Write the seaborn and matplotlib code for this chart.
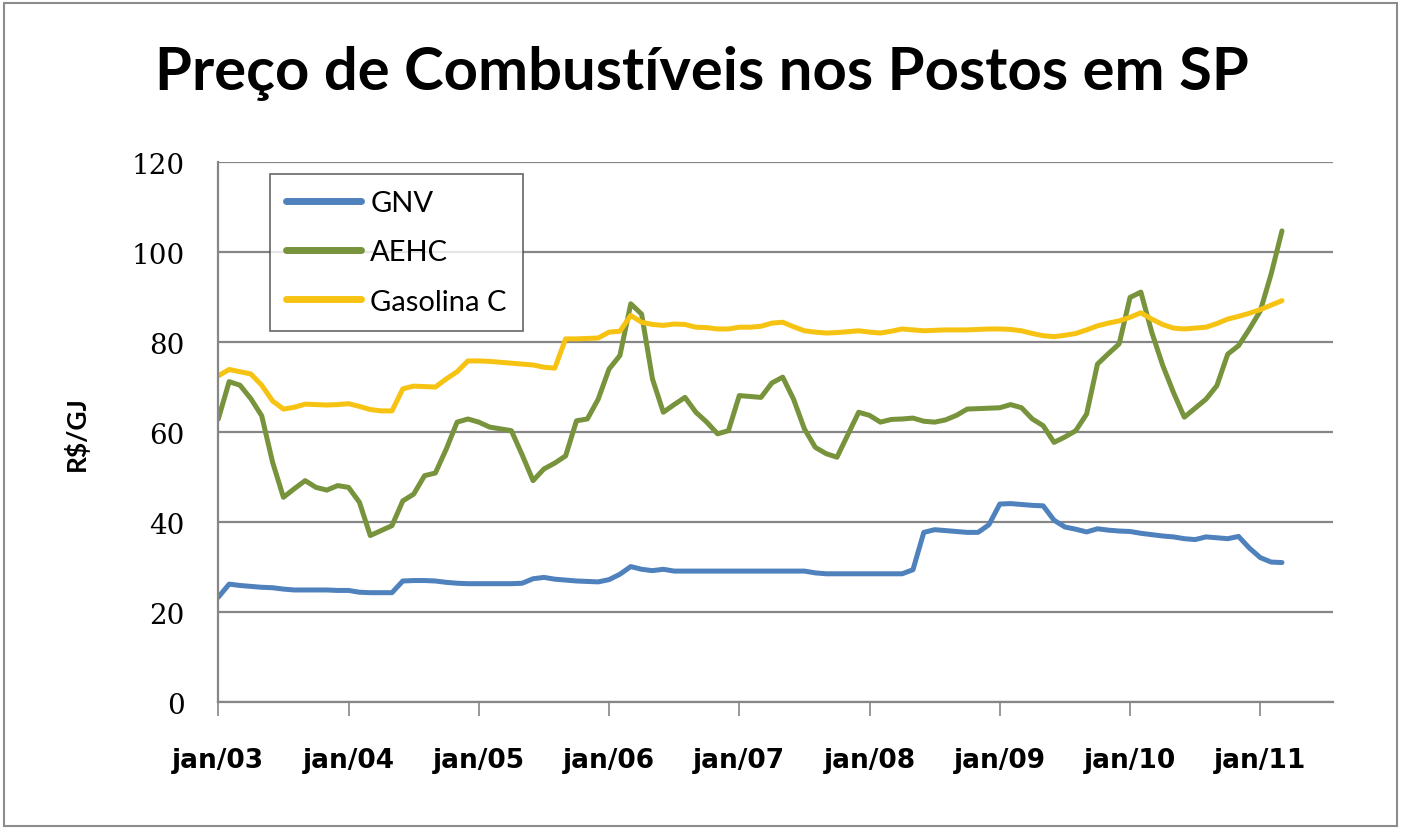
import numpy as np
import pandas as pd
import matplotlib
matplotlib.use("Agg")
import matplotlib.pyplot as plt
import seaborn as sns
from matplotlib.patches import Rectangle

# precos mensais (R$/GJ), jan/03 a mar/11
gnv = [23.4, 26.3, 26.0, 25.8, 25.6, 25.5, 25.2, 25.0, 25.0, 25.0, 25.0, 24.9,
       24.9, 24.5, 24.4, 24.4, 24.4, 27.0, 27.1, 27.1, 27.0, 26.7, 26.5, 26.4,
       26.4, 26.4, 26.4, 26.4, 26.5, 27.5, 27.8, 27.4, 27.2, 27.0, 26.9, 26.8,
       27.3, 28.5, 30.2, 29.6, 29.3, 29.6, 29.2, 29.2, 29.2, 29.2, 29.2, 29.2,
       29.2, 29.2, 29.2, 29.2, 29.2, 29.2, 29.2, 28.8, 28.6, 28.6, 28.6, 28.6,
       28.6, 28.6, 28.6, 28.6, 29.5, 37.8, 38.4, 38.2, 38.0, 37.8, 37.8, 39.5,
       44.1, 44.2, 44.0, 43.8, 43.7, 40.5, 39.0, 38.5, 37.9, 38.6, 38.3, 38.1,
       38.0, 37.6, 37.3, 37.0, 36.8, 36.4, 36.2, 36.8, 36.6, 36.4, 36.9, 34.3,
       32.2, 31.2, 31.1]

aehc = [63.0, 71.3, 70.5, 67.5, 63.7, 53.4, 45.6, 47.5, 49.3, 47.8, 47.2, 48.2,
        47.8, 44.5, 37.1, 38.2, 39.3, 44.8, 46.3, 50.4, 51.0, 56.3, 62.3, 63.0,
        62.3, 61.2, 60.8, 60.4, 55.0, 49.3, 51.9, 53.2, 54.8, 62.6, 63.0, 67.4,
        74.1, 77.1, 88.6, 86.3, 71.9, 64.5, 66.2, 67.8, 64.5, 62.3, 59.7, 60.4,
        68.2, 68.0, 67.8, 71.0, 72.3, 67.4, 60.8, 56.7, 55.3, 54.5, 59.5, 64.5,
        63.8, 62.3, 62.9, 63.0, 63.2, 62.5, 62.3, 62.8, 63.8, 65.2, 65.3, 65.4,
        65.5, 66.2, 65.5, 63.0, 61.5, 57.8, 59.0, 60.4, 64.1, 75.2, 77.5, 79.7,
        90.0, 91.2, 82.3, 75.0, 68.9, 63.4, 65.4, 67.4, 70.4, 77.4, 79.3, 83.0,
        87.0, 95.2, 104.8]

gasolina = [72.6, 74.0, 73.5, 73.0, 70.5, 67.0, 65.2, 65.6, 66.3, 66.2, 66.1, 66.2,
            66.4, 65.8, 65.1, 64.8, 64.8, 69.7, 70.3, 70.2, 70.1, 71.9, 73.5, 75.9,
            75.9, 75.8, 75.6, 75.4, 75.2, 75.0, 74.5, 74.3, 80.8, 80.8, 80.9, 81.0,
            82.3, 82.5, 86.0, 84.5, 84.0, 83.8, 84.1, 84.0, 83.4, 83.3, 83.0, 83.0,
            83.4, 83.4, 83.6, 84.3, 84.5, 83.5, 82.6, 82.3, 82.1, 82.2, 82.4, 82.6,
            82.3, 82.1, 82.5, 83.0, 82.8, 82.6, 82.7, 82.8, 82.8, 82.8, 82.9, 83.0,
            83.0, 82.9, 82.6, 82.0, 81.5, 81.3, 81.6, 82.0, 82.8, 83.7, 84.3, 84.8,
            85.6, 86.6, 85.2, 84.0, 83.2, 83.0, 83.2, 83.4, 84.2, 85.2, 85.8, 86.5,
            87.3, 88.3, 89.3]

series = ["GNV", "AEHC", "Gasolina C"]
cores = ["#4F81BD", "#77933C", "#F7C313"]
tick_labels = ["jan/03", "jan/04", "jan/05", "jan/06", "jan/07",
               "jan/08", "jan/09", "jan/10", "jan/11"]

meses = np.arange(len(gnv))
df = pd.DataFrame({
    "mes": np.tile(meses, 3),
    "valor": gnv + aehc + gasolina,
    "serie": np.repeat(series, len(gnv)),
})

sns.set_style("white")
fig = plt.figure(figsize=(14.03, 8.29), dpi=100)
ax = fig.add_axes([0.1556, 0.1514, 0.7945, 0.6514])

sns.lineplot(data=df, x="mes", y="valor", hue="serie", hue_order=series,
             palette=cores, linewidth=3.6, ax=ax)

ax.set_xlim(0, 102.7)
ax.set_ylim(0, 120)
ax.set_yticks(range(0, 121, 20))
ax.set_xticks(range(0, 97, 12))
ax.set_xticklabels(tick_labels, fontfamily="DejaVu Sans", fontweight="bold",
                   fontsize=19, color="black")
ax.set_yticklabels([str(v) for v in range(0, 121, 20)], fontfamily="DejaVu Serif",
                   fontsize=20, color="black")
ax.tick_params(axis="x", length=10, width=1.2, color="#868686", pad=22, direction="out")
ax.tick_params(axis="y", length=0, pad=24)
ax.xaxis.set_ticks_position("bottom")

ax.grid(axis="y", color="#868686", linewidth=1.6)
ax.set_axisbelow(True)
for s in ["top", "right"]:
    ax.spines[s].set_visible(False)
for s in ["left", "bottom"]:
    ax.spines[s].set_color("#868686")
    ax.spines[s].set_linewidth(1.6)

ax.set_xlabel("")
ax.set_ylabel("R$/GJ", fontfamily="Lato", fontweight="bold", fontsize=19,
              labelpad=31, color="black")

leg = ax.legend(loc="upper left", bbox_to_anchor=(0.046, 0.979), frameon=True,
                fancybox=False, edgecolor="#404040", borderaxespad=0,
                handlelength=2.6, handletextpad=0.3, labelspacing=0.8,
                borderpad=0.55, prop={"family": "Lato", "size": 21})
leg.get_frame().set_linewidth(1.2)
for line in leg.get_lines():
    line.set_linewidth(5)
for t in leg.get_texts():
    t.set_color("black")

fig.suptitle("Preço de Combustíveis nos Postos em SP", fontfamily="Lato",
             fontweight="bold", fontsize=43, y=0.945, color="black")

fig.patches.append(Rectangle((0.003, 0.003), 0.993, 0.992, transform=fig.transFigure,
                             fill=False, edgecolor="#8c8c8c", linewidth=1.5))

fig.savefig("out.png", dpi=100)
